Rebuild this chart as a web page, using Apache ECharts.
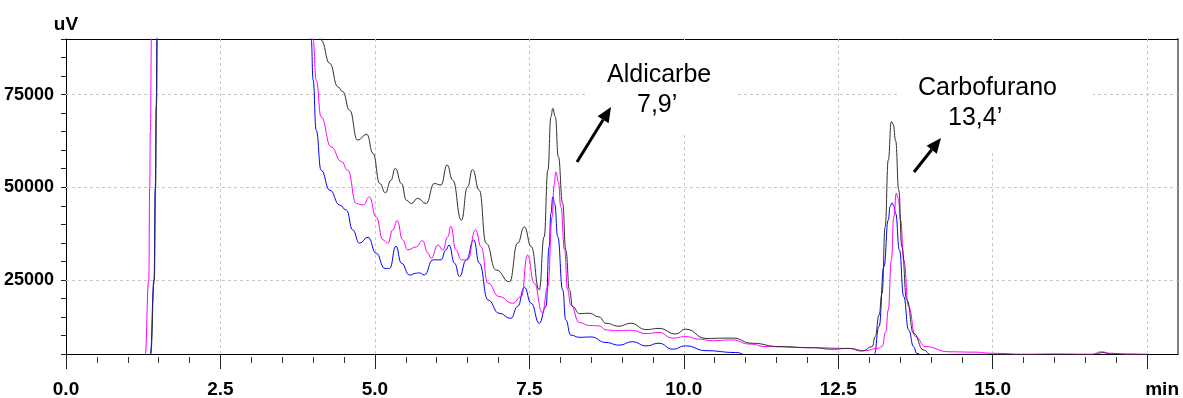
<!DOCTYPE html>
<html>
<head>
<meta charset="utf-8">
<script src="https://cdn.jsdelivr.net/npm/echarts@6/dist/echarts.min.js"></script>
<style>
html,body{margin:0;padding:0;background:#fff;}
#chart{width:1183px;height:398px;}
</style>
</head>
<body>
<div id="chart"></div>
<script>
// ---- Data ----
// retention time (min) and signal (uV) for each trace
const blackTime = [0, 1.30, 1.37, 1.43, 1.45, 1.465, 1.48, 1.6, 3.8, 4.0, 4.13, 4.27, 4.40, 4.48, 4.59, 4.72, 4.87, 4.97, 5.08, 5.17, 5.26, 5.33, 5.43, 5.51, 5.59, 5.69, 5.83, 5.96, 6.07, 6.17, 6.26, 6.40, 6.50, 6.58, 6.69, 6.80, 6.96, 7.18, 7.31, 7.42, 7.53, 7.66, 7.74, 7.80, 7.85, 7.88, 7.92, 7.97, 8.04, 8.09, 8.15, 8.20, 8.31, 8.47, 8.63, 8.74, 8.95, 9.14, 9.39, 9.60, 9.87, 10.03, 10.36, 10.79, 11.11, 11.54, 12.08, 12.40, 12.67, 12.89, 13.05, 13.10, 13.16, 13.21, 13.26, 13.31, 13.36, 13.39, 13.43, 13.48, 13.53, 13.61, 13.72, 13.88, 14.0, 14.5, 15.0, 16.0, 16.65, 16.78, 16.9, 17.5];
const blackSignal = [2000, 2500, 5000, 25000, 50000, 72000, 95000, 140000, 140000, 105000, 89700, 83400, 77100, 75800, 70800, 62700, 64300, 59100, 51000, 48500, 51900, 55100, 51000, 46500, 45600, 47000, 45600, 51000, 50600, 56000, 51900, 41100, 50100, 54800, 49200, 34900, 27700, 24500, 34900, 39300, 34000, 22300, 36600, 54600, 69000, 71300, 69000, 58200, 45600, 33100, 22300, 17800, 15900, 16000, 15000, 13300, 12500, 13300, 11600, 11900, 10400, 11700, 9200, 9300, 7900, 7000, 6700, 6300, 6500, 5800, 7000, 9700, 15500, 21400, 39300, 57300, 67700, 67000, 62500, 49200, 33900, 19600, 10600, 6100, 4800, 4900, 4900, 4900, 4900, 5400, 5000, 4900];

const magentaTime = [0, 1.22, 1.28, 1.34, 1.355, 1.365, 1.385, 1.5, 3.75, 3.93, 4.0, 4.05, 4.13, 4.29, 4.46, 4.56, 4.70, 4.81, 4.91, 5.02, 5.13, 5.21, 5.29, 5.36, 5.45, 5.53, 5.67, 5.77, 5.86, 5.91, 6.02, 6.10, 6.18, 6.23, 6.31, 6.40, 6.50, 6.63, 6.72, 6.83, 7.01, 7.23, 7.37, 7.47, 7.58, 7.71, 7.80, 7.87, 7.90, 7.93, 7.97, 8.01, 8.07, 8.12, 8.17, 8.31, 8.47, 8.63, 8.74, 8.90, 9.15, 9.39, 9.60, 9.82, 10.03, 10.25, 10.46, 10.79, 11.06, 11.33, 12.08, 12.67, 12.94, 13.13, 13.21, 13.27, 13.31, 13.36, 13.40, 13.44, 13.47, 13.51, 13.56, 13.64, 13.75, 13.91, 14.29, 14.7, 15.0, 15.5, 16.0, 16.6, 16.76, 16.9, 17.2, 17.5];
const magentaSignal = [2000, 2500, 4500, 25000, 50000, 65000, 92000, 140000, 140000, 100000, 89700, 78900, 69000, 60900, 56900, 54600, 45600, 45200, 47400, 42000, 35800, 34900, 38500, 41000, 35800, 33100, 33900, 35600, 32200, 30800, 34400, 33100, 36600, 39500, 33100, 30400, 30400, 38500, 33900, 24100, 20500, 18700, 20500, 31700, 24100, 16200, 23200, 42000, 50500, 54100, 51500, 44700, 33100, 22300, 18200, 13500, 12700, 12600, 11500, 11300, 11400, 10500, 10800, 9300, 9700, 9000, 8600, 8800, 7700, 7000, 6700, 6500, 5900, 6500, 7000, 11000, 16900, 30400, 42000, 48400, 47000, 41100, 30400, 17800, 9700, 7000, 5600, 5500, 5200, 4900, 5000, 4900, 5600, 5200, 4900, 4900];

const blueTime = [0, 1.33, 1.365, 1.425, 1.445, 1.46, 1.475, 1.6, 3.75, 3.9, 3.97, 4.00, 4.05, 4.13, 4.27, 4.43, 4.54, 4.64, 4.75, 4.89, 5.02, 5.16, 5.24, 5.34, 5.43, 5.56, 5.67, 5.72, 5.80, 5.94, 6.07, 6.15, 6.20, 6.29, 6.37, 6.48, 6.60, 6.69, 6.83, 7.01, 7.20, 7.31, 7.42, 7.53, 7.66, 7.77, 7.82, 7.85, 7.88, 7.91, 7.96, 8.04, 8.09, 8.17, 8.31, 8.50, 8.74, 8.95, 9.17, 9.39, 9.60, 9.82, 10.03, 10.36, 10.84, 11.05, 11.5, 12.5, 13.0, 13.08, 13.16, 13.24, 13.31, 13.34, 13.37, 13.40, 13.43, 13.49, 13.56, 13.64, 13.72, 13.77, 13.9, 17.5];
const blueSignal = [2000, 2500, 5000, 25000, 50000, 72000, 95000, 140000, 140000, 100000, 89700, 78900, 65400, 54600, 49200, 45200, 43800, 38500, 34900, 36500, 32200, 28100, 28100, 34100, 29500, 26300, 26800, 26900, 26300, 30400, 30400, 33100, 34400, 29500, 25900, 30400, 35800, 29500, 19600, 16000, 14600, 17800, 23000, 18700, 13300, 17800, 33900, 43000, 47400, 45500, 36600, 22300, 14200, 10100, 9500, 9600, 8100, 7400, 8300, 7200, 7900, 6300, 7200, 5900, 5400, 4600, 4000, 4000, 4000, 4700, 12400, 28600, 41100, 44800, 45800, 45000, 42900, 33100, 20500, 11500, 7000, 5200, 4000, 4000];

// axis ticks / labels
const xMajorTicks = [0, 2.5, 5, 7.5, 10, 12.5, 15, 17.5];
const xTickLabels = ['0.0', '2.5', '5.0', '7.5', '10.0', '12.5', '15.0', 'min'];
const yLabelValues = [25000, 50000, 75000];
const yAxisName = 'uV';

// annotations (compound name, retention time text)
const annotationTitles = ['Aldicarbe', 'Carbofurano'];
const annotationTimes = ['7,9\u2019', '13,4\u2019'];

// ---- Build ----
function zip(t, v) { return t.map((x, i) => [x, v[i]]); }
const xMinorTicks = [];
for (let i = 1; i < 36; i++) { if (i % 5 !== 0) xMinorTicks.push(i / 2); }

const AXISFONT = "'Liberation Sans', Arial, sans-serif";
const SANS = "'Liberation Sans', Arial, 'DejaVu Sans', sans-serif";
const gridColor = '#c8c8c8';

const gridLines = [];
yLabelValues.forEach(v => gridLines.push({ yAxis: v }));
xMajorTicks.slice(1).forEach(v => gridLines.push({ xAxis: v }));

function arrow(tail, tip) {
  const dx = tip[0] - tail[0], dy = tip[1] - tail[1];
  const len = Math.sqrt(dx * dx + dy * dy);
  const ux = dx / len, uy = dy / len;
  const hl = 15, hw = 6.5;
  const bx = tip[0] - hl * ux, by = tip[1] - hl * uy;
  const px = -uy, py = ux;
  return [
    { type: 'line', z: 20, shape: { x1: tail[0], y1: tail[1], x2: bx, y2: by }, style: { stroke: '#000', lineWidth: 3 } },
    { type: 'polygon', z: 20, shape: { points: [tip, [bx + hw * px, by + hw * py], [bx - hw * px, by - hw * py]] }, style: { fill: '#000' } }
  ];
}
function txt(s, x, y) {
  return { type: 'text', z: 20, style: { text: s, x: x, y: y, font: '25px ' + SANS, fill: '#000', align: 'left', textAlign: 'left', verticalAlign: 'middle', textVerticalAlign: 'middle' } };
}

const graphics = [
  { type: 'rect', z: 2, shape: { x: 587, y: 40, width: 150, height: 92 }, style: { fill: '#fff' } },
  { type: 'rect', z: 2, shape: { x: 899, y: 40, width: 194, height: 110 }, style: { fill: '#fff' } },
  txt(annotationTitles[0], 607, 75),
  txt(annotationTimes[0], 637, 105),
  txt(annotationTitles[1], 918, 88),
  txt(annotationTimes[1], 948, 118)
].concat(arrow([577, 162], [611, 107])).concat(arrow([914, 172], [941, 138]));

function lineSeries(name, data, color, extra) {
  return Object.assign({
    type: 'line', name: name, data: data,
    xAxisIndex: 0, yAxisIndex: 0,
    showSymbol: false, symbol: 'none',
    smooth: 0.5, smoothMonotone: 'x',
    clip: true, z: 3,
    lineStyle: { color: color, width: 1 },
    emphasis: { disabled: true },
    silent: true
  }, extra || {});
}

const option = {
  animation: false,
  backgroundColor: '#fff',
  grid: { left: 66, right: 5, top: 39, bottom: 44, containLabel: false, outerBoundsMode: 'none' },
  xAxis: [
    {
      type: 'value', min: 0, max: 18, interval: 2.5, position: 'bottom',
      axisLine: { show: true, onZero: false, lineStyle: { color: '#000', width: 1 } },
      axisTick: { show: true, length: 15, customValues: xMajorTicks, lineStyle: { color: '#222' } },
      axisLabel: {
        show: true, customValues: xMajorTicks, interval: 0, hideOverlap: false, margin: 26,
        fontFamily: AXISFONT, fontSize: 19, fontWeight: 'bold', color: '#000',
        formatter: function (v) {
          const i = xMajorTicks.findIndex(t => Math.abs(t - v) < 1e-6);
          if (i < 0) return '';
          if (i === xMajorTicks.length - 1) return '{m|' + xTickLabels[i] + '}';
          return xTickLabels[i];
        },
        rich: { m: { fontFamily: AXISFONT, fontSize: 19, fontWeight: 'bold', color: '#000', padding: [0, 0, 0, 30] } }
      },
      splitLine: { show: false }
    },
    {
      type: 'value', min: 0, max: 18, interval: 0.5, position: 'bottom', offset: 3,
      axisLine: { show: false, onZero: false },
      axisTick: { show: true, length: 6, customValues: xMinorTicks, lineStyle: { color: '#333' } },
      axisLabel: { show: false },
      splitLine: { show: false }
    },
    {
      type: 'value', min: 0, max: 18, position: 'top',
      axisLine: { show: true, onZero: false, lineStyle: { color: '#000', width: 1 } },
      axisTick: { show: false }, axisLabel: { show: false }, splitLine: { show: false }
    }
  ],
  yAxis: [
    {
      type: 'value', min: 5000, max: 90000, interval: 5000, position: 'left',
      axisLine: { show: true, onZero: false, lineStyle: { color: '#000', width: 1 } },
      axisTick: { show: true, length: 5, lineStyle: { color: '#222' } },
      axisLabel: {
        show: true, customValues: yLabelValues, margin: 12,
        fontFamily: AXISFONT, fontSize: 18, fontWeight: 'bold', color: '#000',
        formatter: function (v) { return yLabelValues.indexOf(v) >= 0 ? String(v) : ''; }
      },
      splitLine: { show: false },
      name: yAxisName, nameLocation: 'end', nameGap: 5,
      nameTextStyle: { fontFamily: AXISFONT, fontSize: 19, fontWeight: 'bold', color: '#000', align: 'center', verticalAlign: 'bottom' }
    },
    {
      type: 'value', min: 5000, max: 90000, position: 'right',
      axisLine: { show: true, onZero: false, lineStyle: { color: '#7f7f7f', width: 2 } },
      axisTick: { show: false }, axisLabel: { show: false }, splitLine: { show: false }
    }
  ],
  graphic: graphics,
  series: [
    lineSeries('blue', zip(blueTime, blueSignal), '#0000ff'),
    lineSeries('magenta', zip(magentaTime, magentaSignal), '#ff00ff'),
    lineSeries('black', zip(blackTime, blackSignal), '#303030', {
      markLine: {
        silent: true, z: 1, symbol: ['none', 'none'], animation: false,
        label: { show: false }, emphasis: { disabled: true },
        lineStyle: { color: gridColor, width: 1, type: [3, 3] },
        data: gridLines
      }
    })
  ]
};

const chart = echarts.init(document.getElementById('chart'), null, { renderer: 'canvas' });
chart.setOption(option);
</script>
</body>
</html>
